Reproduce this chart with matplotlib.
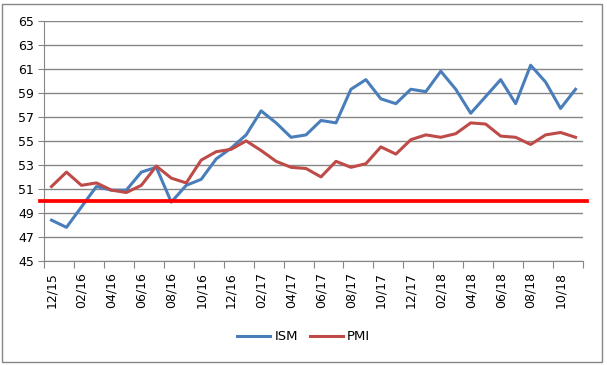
import numpy as np
import matplotlib.pyplot as plt
from matplotlib.patches import Rectangle

# monthly data, 12/15 .. 11/18
months = ['12/15', '01/16', '02/16', '03/16', '04/16', '05/16', '06/16', '07/16',
          '08/16', '09/16', '10/16', '11/16', '12/16', '01/17', '02/17', '03/17',
          '04/17', '05/17', '06/17', '07/17', '08/17', '09/17', '10/17', '11/17',
          '12/17', '01/18', '02/18', '03/18', '04/18', '05/18', '06/18', '07/18',
          '08/18', '09/18', '10/18', '11/18']

ism = [48.4, 47.8, 49.5, 51.2, 50.9, 50.9, 52.4, 52.8, 49.9, 51.3, 51.8, 53.5,
       54.4, 55.5, 57.5, 56.5, 55.3, 55.5, 56.7, 56.5, 59.3, 60.1, 58.5, 58.1,
       59.3, 59.1, 60.8, 59.3, 57.3, 58.7, 60.1, 58.1, 61.3, 59.9, 57.7, 59.3]

pmi = [51.2, 52.4, 51.3, 51.5, 50.9, 50.7, 51.3, 52.9, 51.9, 51.5, 53.4, 54.1,
       54.3, 55.0, 54.2, 53.3, 52.8, 52.7, 52.0, 53.3, 52.8, 53.1, 54.5, 53.9,
       55.1, 55.5, 55.3, 55.6, 56.5, 56.4, 55.4, 55.3, 54.7, 55.5, 55.7, 55.3]

threshold = 50

fig = plt.figure(figsize=(6.07, 3.65), dpi=100)
ax = fig.add_axes([0.0725, 0.285, 0.888, 0.658])

x = np.arange(len(months))
ax.plot(x, ism, color='#4A7EBB', lw=2.2, label='ISM', zorder=3)
ax.plot(x, pmi, color='#BE4B48', lw=2.2, label='PMI', zorder=3)
ax.axhline(threshold, xmin=-0.008, xmax=1.008, color='#FF0000', lw=2.7,
           clip_on=False, zorder=4)

ax.set_ylim(45, 65)
ax.set_yticks(np.arange(45, 66, 2))
ax.set_xlim(-0.5, len(months) - 0.5)

# tick marks between categories, labels every second month
ax.set_xticks(np.arange(-0.5, len(months), 2))
ax.set_xticklabels([])
ax.set_xticks(x[::2], minor=True)
ax.set_xticklabels(months[::2], minor=True, rotation=90)
ax.tick_params(axis='x', which='major', length=5, color='#868686', direction='out')
ax.tick_params(axis='x', which='minor', length=0, pad=8, labelsize=9)
ax.tick_params(axis='y', length=4, color='#868686', labelsize=9, pad=3)

ax.grid(axis='y', color='#868686', lw=1)
ax.set_axisbelow(True)
for s in ['top', 'right']:
    ax.spines[s].set_visible(False)
for s in ['left', 'bottom']:
    ax.spines[s].set_color('#868686')

fig.legend(loc='center', bbox_to_anchor=(0.5, 0.077), ncol=2, frameon=False,
           fontsize=9.5, handlelength=2.5, columnspacing=0.9, handletextpad=0.3)

fig.patches.append(Rectangle((0.004, 0.008), 0.988, 0.98, transform=fig.transFigure,
                             fill=False, edgecolor='#868686', lw=1))

fig.savefig('out.png', dpi=100)
